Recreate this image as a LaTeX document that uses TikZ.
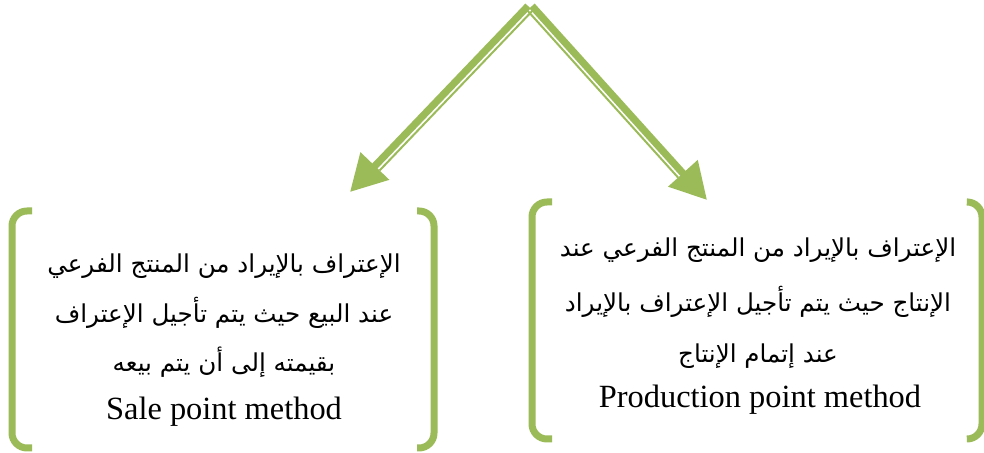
\documentclass[tikz,border=0pt]{standalone}
\usepackage{fontspec}
\setmainfont{Liberation Serif}
\newfontfamily\arabicfont[Script=Arabic]{DejaVu Sans}
\TeXXeTstate=1
\usetikzlibrary{arrows.meta,calc}
\definecolor{olivegreen}{HTML}{9BBB59}
\begin{document}
\begin{tikzpicture}[x=0.5pt,y=-0.5pt,
  bracket/.style={draw=olivegreen,line width=3.5pt,rounded corners=7.5pt},
  thickarrow/.style={draw=olivegreen,line width=3.6pt,-{Triangle[length=18pt,width=19pt]}},
  thinline/.style={draw=olivegreen,line width=1pt},
  ar/.style={anchor=base,inner sep=0pt,font=\arabicfont\fontsize{12.3pt}{15pt}\selectfont},
  en/.style={anchor=base,inner sep=0pt,font=\fontsize{16.2pt}{19pt}\selectfont}]
\useasboundingbox (0,0) rectangle (984,453);
% arrows
\coordinate (apexL) at (528,6);
\coordinate (apexR) at (532,6);
\coordinate (tipL) at (350,192);
\coordinate (tipR) at (707,200);
\coordinate (baseL) at ($(tipL)!18pt!(apexL)$);
\coordinate (baseR) at ($(tipR)!18pt!(apexR)$);
\draw[thickarrow] (apexL) -- (tipL);
\draw[thickarrow] (apexR) -- (tipR);
\draw[thinline] ([shift={(4.7,4.5)}]apexL) -- ([shift={(4.7,4.5)}]baseL);
\draw[thinline] ([shift={(-4.8,4.3)}]apexR) -- ([shift={(-4.8,4.3)}]baseR);
% left box brackets
\draw[bracket] (32,211) -- (12,211) -- (12,448) -- (32,448);
\draw[bracket] (417,211) -- (434,211) -- (434,448) -- (417,448);
% right box brackets
\draw[bracket] (552,202) -- (532,202) -- (532,439) -- (552,439);
\draw[bracket] (968,202) -- (982,202) -- (982,439) -- (968,439);
% left texts
\node[ar] (l1) at (224,273) {\beginR الإعتراف بالإيراد من المنتج الفرعي\endR};
\node[ar] (l2) at (224,323) {\beginR عند البيع حيث يتم تأجيل الإعتراف\endR};
\node[ar] (l3) at (224,372) {\beginR بقيمته إلى أن يتم بيعه\endR};
\node[en] (l4) at (224,420) {Sale point method};
% right texts
\node[ar] (r1) at (758,257) {\beginR الإعتراف بالإيراد من المنتج الفرعي عند\endR};
\node[ar] (r2) at (758,312) {\beginR الإنتاج حيث يتم تأجيل الإعتراف بالإيراد\endR};
\node[ar] (r3) at (758,363) {\beginR عند إتمام الإنتاج\endR};
\node[en] (r4) at (760,408) {Production point method};
\end{tikzpicture}
\end{document}
